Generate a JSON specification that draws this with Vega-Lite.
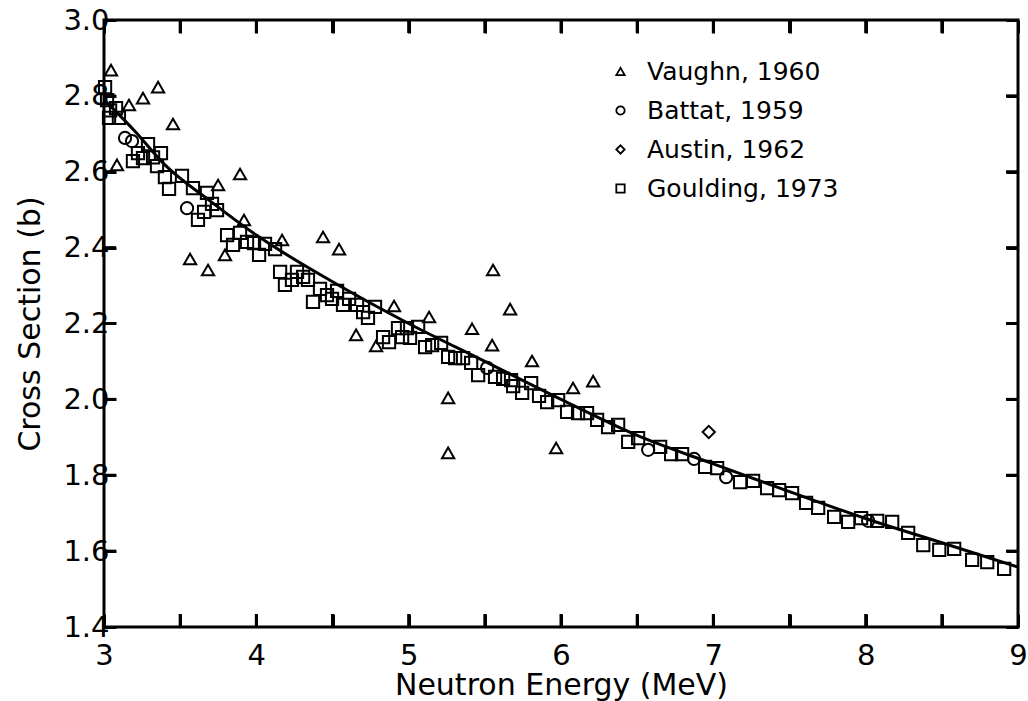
{
  "$schema": "https://vega.github.io/schema/vega-lite/v6.json",
  "autosize": "none",
  "width": 914,
  "height": 607,
  "padding": {"left": 104, "top": 20, "right": 10, "bottom": 74},
  "background": "white",
  "config": {
    "font": "DejaVu Sans",
    "view": {"stroke": "black", "strokeWidth": 3},
    "axis": {"grid": false, "domain": false, "labelColor": "black", "titleColor": "black", "labelFont": "DejaVu Sans", "titleFont": "DejaVu Sans", "labelFontSize": 29, "titleFontSize": 30, "titleFontWeight": "normal"}
  },
  "datasets": {
    "xt": [{"E": 3.5}, {"E": 4}, {"E": 4.5}, {"E": 5}, {"E": 5.5}, {"E": 6}, {"E": 6.5}, {"E": 7}, {"E": 7.5}, {"E": 8}, {"E": 8.5}],
    "yt": [{"s": 1.6}, {"s": 1.8}, {"s": 2.0}, {"s": 2.2}, {"s": 2.4}, {"s": 2.6}, {"s": 2.8}],
    "curve": [
      {"E": 3.0, "s": 2.79}, {"E": 3.2, "s": 2.708}, {"E": 3.4, "s": 2.618}, {"E": 3.7, "s": 2.522},
      {"E": 4.0, "s": 2.433}, {"E": 4.5, "s": 2.31}, {"E": 5.0, "s": 2.2}, {"E": 5.5, "s": 2.1},
      {"E": 6.0, "s": 2.0}, {"E": 6.5, "s": 1.905}, {"E": 7.0, "s": 1.83}, {"E": 7.5, "s": 1.757},
      {"E": 8.0, "s": 1.686}, {"E": 8.5, "s": 1.622}, {"E": 9.0, "s": 1.558}
    ],
    "obs": [
      {"E": 3.046, "s": 2.868, "src": "Vaughn, 1960"},
      {"E": 3.164, "s": 2.776, "src": "Vaughn, 1960"},
      {"E": 3.256, "s": 2.794, "src": "Vaughn, 1960"},
      {"E": 3.355, "s": 2.823, "src": "Vaughn, 1960"},
      {"E": 3.453, "s": 2.726, "src": "Vaughn, 1960"},
      {"E": 3.085, "s": 2.618, "src": "Vaughn, 1960"},
      {"E": 3.893, "s": 2.594, "src": "Vaughn, 1960"},
      {"E": 3.749, "s": 2.565, "src": "Vaughn, 1960"},
      {"E": 3.919, "s": 2.473, "src": "Vaughn, 1960"},
      {"E": 3.794, "s": 2.381, "src": "Vaughn, 1960"},
      {"E": 3.565, "s": 2.37, "src": "Vaughn, 1960"},
      {"E": 3.683, "s": 2.341, "src": "Vaughn, 1960"},
      {"E": 4.169, "s": 2.42, "src": "Vaughn, 1960"},
      {"E": 4.438, "s": 2.428, "src": "Vaughn, 1960"},
      {"E": 4.543, "s": 2.396, "src": "Vaughn, 1960"},
      {"E": 4.904, "s": 2.246, "src": "Vaughn, 1960"},
      {"E": 5.134, "s": 2.217, "src": "Vaughn, 1960"},
      {"E": 4.655, "s": 2.17, "src": "Vaughn, 1960"},
      {"E": 4.786, "s": 2.141, "src": "Vaughn, 1960"},
      {"E": 5.554, "s": 2.341, "src": "Vaughn, 1960"},
      {"E": 5.666, "s": 2.238, "src": "Vaughn, 1960"},
      {"E": 5.416, "s": 2.186, "src": "Vaughn, 1960"},
      {"E": 5.548, "s": 2.143, "src": "Vaughn, 1960"},
      {"E": 5.81, "s": 2.101, "src": "Vaughn, 1960"},
      {"E": 6.079, "s": 2.03, "src": "Vaughn, 1960"},
      {"E": 6.211, "s": 2.048, "src": "Vaughn, 1960"},
      {"E": 5.259, "s": 2.004, "src": "Vaughn, 1960"},
      {"E": 5.259, "s": 1.859, "src": "Vaughn, 1960"},
      {"E": 5.968, "s": 1.872, "src": "Vaughn, 1960"},
      {"E": 3.138, "s": 2.689, "src": "Battat, 1959"},
      {"E": 3.184, "s": 2.681, "src": "Battat, 1959"},
      {"E": 3.545, "s": 2.504, "src": "Battat, 1959"},
      {"E": 5.515, "s": 2.083, "src": "Battat, 1959"},
      {"E": 6.572, "s": 1.867, "src": "Battat, 1959"},
      {"E": 6.874, "s": 1.843, "src": "Battat, 1959"},
      {"E": 7.084, "s": 1.795, "src": "Battat, 1959"},
      {"E": 8.016, "s": 1.68, "src": "Battat, 1959"},
      {"E": 6.97, "s": 1.914, "src": "Austin, 1962"},
      {"E": 3.007, "s": 2.823, "src": "Goulding, 1973"},
      {"E": 3.02, "s": 2.789, "src": "Goulding, 1973"},
      {"E": 3.079, "s": 2.768, "src": "Goulding, 1973"},
      {"E": 3.04, "s": 2.762, "src": "Goulding, 1973"},
      {"E": 3.033, "s": 2.742, "src": "Goulding, 1973"},
      {"E": 3.098, "s": 2.742, "src": "Goulding, 1973"},
      {"E": 3.223, "s": 2.649, "src": "Goulding, 1973"},
      {"E": 3.289, "s": 2.673, "src": "Goulding, 1973"},
      {"E": 3.374, "s": 2.649, "src": "Goulding, 1973"},
      {"E": 3.19, "s": 2.628, "src": "Goulding, 1973"},
      {"E": 3.256, "s": 2.636, "src": "Goulding, 1973"},
      {"E": 3.322, "s": 2.638, "src": "Goulding, 1973"},
      {"E": 3.348, "s": 2.615, "src": "Goulding, 1973"},
      {"E": 3.4, "s": 2.586, "src": "Goulding, 1973"},
      {"E": 3.512, "s": 2.589, "src": "Goulding, 1973"},
      {"E": 3.427, "s": 2.555, "src": "Goulding, 1973"},
      {"E": 3.584, "s": 2.557, "src": "Goulding, 1973"},
      {"E": 3.676, "s": 2.544, "src": "Goulding, 1973"},
      {"E": 3.709, "s": 2.515, "src": "Goulding, 1973"},
      {"E": 3.657, "s": 2.494, "src": "Goulding, 1973"},
      {"E": 3.617, "s": 2.473, "src": "Goulding, 1973"},
      {"E": 3.742, "s": 2.499, "src": "Goulding, 1973"},
      {"E": 3.808, "s": 2.433, "src": "Goulding, 1973"},
      {"E": 3.893, "s": 2.439, "src": "Goulding, 1973"},
      {"E": 3.847, "s": 2.407, "src": "Goulding, 1973"},
      {"E": 3.939, "s": 2.415, "src": "Goulding, 1973"},
      {"E": 3.985, "s": 2.412, "src": "Goulding, 1973"},
      {"E": 4.057, "s": 2.41, "src": "Goulding, 1973"},
      {"E": 4.018, "s": 2.381, "src": "Goulding, 1973"},
      {"E": 4.123, "s": 2.396, "src": "Goulding, 1973"},
      {"E": 4.156, "s": 2.336, "src": "Goulding, 1973"},
      {"E": 4.234, "s": 2.315, "src": "Goulding, 1973"},
      {"E": 4.188, "s": 2.302, "src": "Goulding, 1973"},
      {"E": 4.267, "s": 2.336, "src": "Goulding, 1973"},
      {"E": 4.307, "s": 2.323, "src": "Goulding, 1973"},
      {"E": 4.339, "s": 2.315, "src": "Goulding, 1973"},
      {"E": 4.418, "s": 2.291, "src": "Goulding, 1973"},
      {"E": 4.464, "s": 2.275, "src": "Goulding, 1973"},
      {"E": 4.497, "s": 2.265, "src": "Goulding, 1973"},
      {"E": 4.372, "s": 2.257, "src": "Goulding, 1973"},
      {"E": 4.53, "s": 2.286, "src": "Goulding, 1973"},
      {"E": 4.609, "s": 2.265, "src": "Goulding, 1973"},
      {"E": 4.569, "s": 2.249, "src": "Goulding, 1973"},
      {"E": 4.661, "s": 2.249, "src": "Goulding, 1973"},
      {"E": 4.701, "s": 2.23, "src": "Goulding, 1973"},
      {"E": 4.733, "s": 2.215, "src": "Goulding, 1973"},
      {"E": 4.779, "s": 2.244, "src": "Goulding, 1973"},
      {"E": 4.93, "s": 2.188, "src": "Goulding, 1973"},
      {"E": 4.989, "s": 2.188, "src": "Goulding, 1973"},
      {"E": 5.062, "s": 2.191, "src": "Goulding, 1973"},
      {"E": 4.957, "s": 2.164, "src": "Goulding, 1973"},
      {"E": 5.009, "s": 2.162, "src": "Goulding, 1973"},
      {"E": 4.832, "s": 2.164, "src": "Goulding, 1973"},
      {"E": 4.871, "s": 2.151, "src": "Goulding, 1973"},
      {"E": 5.108, "s": 2.138, "src": "Goulding, 1973"},
      {"E": 5.154, "s": 2.143, "src": "Goulding, 1973"},
      {"E": 5.213, "s": 2.149, "src": "Goulding, 1973"},
      {"E": 5.259, "s": 2.112, "src": "Goulding, 1973"},
      {"E": 5.305, "s": 2.109, "src": "Goulding, 1973"},
      {"E": 5.357, "s": 2.109, "src": "Goulding, 1973"},
      {"E": 5.41, "s": 2.096, "src": "Goulding, 1973"},
      {"E": 5.456, "s": 2.064, "src": "Goulding, 1973"},
      {"E": 5.567, "s": 2.059, "src": "Goulding, 1973"},
      {"E": 5.62, "s": 2.054, "src": "Goulding, 1973"},
      {"E": 5.672, "s": 2.051, "src": "Goulding, 1973"},
      {"E": 5.686, "s": 2.035, "src": "Goulding, 1973"},
      {"E": 5.745, "s": 2.017, "src": "Goulding, 1973"},
      {"E": 5.804, "s": 2.043, "src": "Goulding, 1973"},
      {"E": 5.856, "s": 2.009, "src": "Goulding, 1973"},
      {"E": 5.909, "s": 1.993, "src": "Goulding, 1973"},
      {"E": 5.981, "s": 1.998, "src": "Goulding, 1973"},
      {"E": 6.04, "s": 1.967, "src": "Goulding, 1973"},
      {"E": 6.112, "s": 1.964, "src": "Goulding, 1973"},
      {"E": 6.171, "s": 1.964, "src": "Goulding, 1973"},
      {"E": 6.237, "s": 1.946, "src": "Goulding, 1973"},
      {"E": 6.309, "s": 1.927, "src": "Goulding, 1973"},
      {"E": 6.375, "s": 1.933, "src": "Goulding, 1973"},
      {"E": 6.441, "s": 1.888, "src": "Goulding, 1973"},
      {"E": 6.506, "s": 1.898, "src": "Goulding, 1973"},
      {"E": 6.651, "s": 1.875, "src": "Goulding, 1973"},
      {"E": 6.723, "s": 1.856, "src": "Goulding, 1973"},
      {"E": 6.795, "s": 1.856, "src": "Goulding, 1973"},
      {"E": 6.946, "s": 1.822, "src": "Goulding, 1973"},
      {"E": 7.025, "s": 1.819, "src": "Goulding, 1973"},
      {"E": 7.176, "s": 1.782, "src": "Goulding, 1973"},
      {"E": 7.261, "s": 1.785, "src": "Goulding, 1973"},
      {"E": 7.353, "s": 1.766, "src": "Goulding, 1973"},
      {"E": 7.432, "s": 1.761, "src": "Goulding, 1973"},
      {"E": 7.517, "s": 1.753, "src": "Goulding, 1973"},
      {"E": 7.609, "s": 1.727, "src": "Goulding, 1973"},
      {"E": 7.688, "s": 1.714, "src": "Goulding, 1973"},
      {"E": 7.793, "s": 1.69, "src": "Goulding, 1973"},
      {"E": 7.885, "s": 1.677, "src": "Goulding, 1973"},
      {"E": 7.97, "s": 1.687, "src": "Goulding, 1973"},
      {"E": 8.076, "s": 1.68, "src": "Goulding, 1973"},
      {"E": 8.174, "s": 1.677, "src": "Goulding, 1973"},
      {"E": 8.279, "s": 1.648, "src": "Goulding, 1973"},
      {"E": 8.378, "s": 1.616, "src": "Goulding, 1973"},
      {"E": 8.483, "s": 1.603, "src": "Goulding, 1973"},
      {"E": 8.581, "s": 1.606, "src": "Goulding, 1973"},
      {"E": 8.699, "s": 1.577, "src": "Goulding, 1973"},
      {"E": 8.798, "s": 1.571, "src": "Goulding, 1973"},
      {"E": 8.909, "s": 1.553, "src": "Goulding, 1973"}
    ]
  },
  "layer": [
    {
      "data": {"name": "curve"},
      "mark": {"type": "line", "color": "black", "strokeWidth": 3, "interpolate": "monotone"},
      "encoding": {
        "x": {"field": "E", "type": "quantitative", "scale": {"domain": [3, 9], "nice": false, "zero": false},
          "axis": {"orient": "bottom", "title": "Neutron Energy (MeV)", "values": [3, 3.5, 4, 4.5, 5, 5.5, 6, 6.5, 7, 7.5, 8, 8.5, 9],
            "labelExpr": "datum.value % 1 === 0 ? format(datum.value, 'd') : ''", "labelFlush": false, "tickSize": -13, "tickColor": "black", "tickWidth": 3, "labelPadding": 27, "titlePadding": 0}},
        "y": {"field": "s", "type": "quantitative", "scale": {"domain": [1.4, 3.0], "nice": false, "zero": false},
          "axis": {"orient": "left", "title": "Cross Section (b)", "values": [1.4, 1.6, 1.8, 2.0, 2.2, 2.4, 2.6, 2.8, 3.0], "format": ".1f", "tickSize": -12, "tickColor": "black", "tickWidth": 3, "labelPadding": 7, "titlePadding": 17}}
      }
    },
    {
      "data": {"name": "obs"},
      "mark": {"type": "point", "filled": false, "strokeWidth": 2, "size": 150, "opacity": 1},
      "encoding": {
        "x": {"field": "E", "type": "quantitative",
          "axis": {"orient": "top", "title": null, "labels": false, "values": [3, 3.5, 4, 4.5, 5, 5.5, 6, 6.5, 7, 7.5, 8, 8.5, 9], "tickSize": -13, "tickColor": "black", "tickWidth": 3}},
        "y": {"field": "s", "type": "quantitative",
          "axis": {"orient": "right", "title": null, "labels": false, "values": [1.4, 1.6, 1.8, 2.0, 2.2, 2.4, 2.6, 2.8, 3.0], "tickSize": -12, "tickColor": "black", "tickWidth": 3}},
        "shape": {"field": "src", "type": "nominal",
          "scale": {"domain": ["Vaughn, 1960", "Battat, 1959", "Austin, 1962", "Goulding, 1973"], "range": ["triangle-up", "circle", "diamond", "square"]},
          "legend": {"title": null, "orient": "none", "legendX": 504, "legendY": 39, "labelFontSize": 25, "labelLimit": 0, "labelFont": "DejaVu Sans", "labelColor": "black", "symbolSize": 70, "symbolStrokeWidth": 1.8, "symbolStrokeColor": "black", "symbolFillColor": "white", "rowPadding": 13, "labelOffset": 14}},
        "color": {"value": "black"}
      }
    },
    {
      "data": {"name": "xt"},
      "mark": {"type": "tick", "orient": "vertical", "size": 13, "thickness": 3, "color": "black", "opacity": 1, "yOffset": -6.5},
      "encoding": {
        "x": {"field": "E", "type": "quantitative", "axis": null},
        "y": {"datum": 1.4, "type": "quantitative", "axis": null}
      }
    },
    {
      "data": {"name": "xt"},
      "mark": {"type": "tick", "orient": "vertical", "size": 13, "thickness": 3, "color": "black", "opacity": 1, "yOffset": 6.5},
      "encoding": {
        "x": {"field": "E", "type": "quantitative", "axis": null},
        "y": {"datum": 3.0, "type": "quantitative", "axis": null}
      }
    },
    {
      "data": {"name": "yt"},
      "mark": {"type": "tick", "orient": "horizontal", "size": 12, "thickness": 3, "color": "black", "opacity": 1, "xOffset": 6},
      "encoding": {
        "y": {"field": "s", "type": "quantitative", "axis": null},
        "x": {"datum": 3, "type": "quantitative", "axis": null}
      }
    },
    {
      "data": {"name": "yt"},
      "mark": {"type": "tick", "orient": "horizontal", "size": 12, "thickness": 3, "color": "black", "opacity": 1, "xOffset": -6},
      "encoding": {
        "y": {"field": "s", "type": "quantitative", "axis": null},
        "x": {"datum": 9, "type": "quantitative", "axis": null}
      }
    }
  ],
  "resolve": {"axis": {"x": "independent", "y": "independent"}}
}
